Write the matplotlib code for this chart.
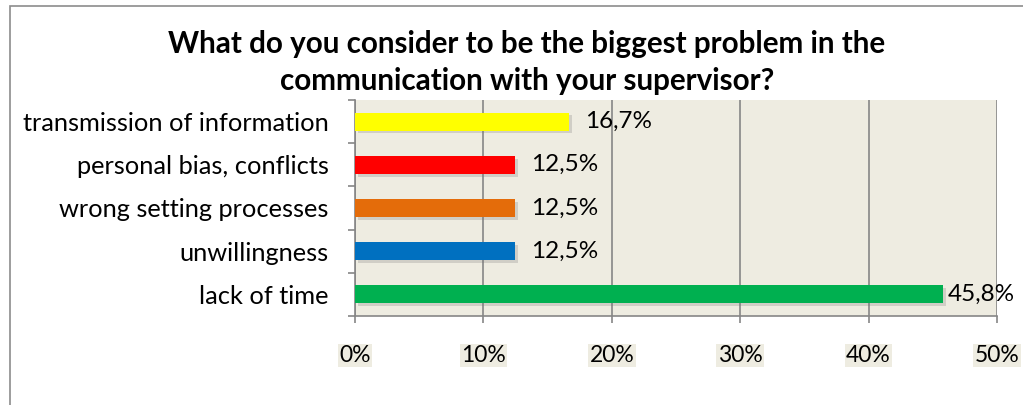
import matplotlib.pyplot as plt
import matplotlib.patheffects as pe
from matplotlib.patches import Rectangle

# survey answers, bottom to top
categories = ["lack of time", "unwillingness", "wrong setting processes",
              "personal bias, conflicts", "transmission of information"]
values = [45.8, 12.5, 12.5, 12.5, 16.7]
labels = ["45,8%", "12,5%", "12,5%", "12,5%", "16,7%"]
colors = ["#00B050", "#0070C0", "#E46C0A", "#FF0000", "#FFFF00"]
xticks = [0, 10, 20, 30, 40, 50]

plt.rcParams['font.family'] = ['Lato', 'DejaVu Sans']

fig = plt.figure(figsize=(10.23, 4.05), dpi=100)
ax = fig.add_axes([0.347, 0.22, 0.6276, 0.533])
ax.set_facecolor("#EEECE1")

bars = ax.barh(range(len(values)), values, height=0.42, color=colors, zorder=3)
for b in bars:
    b.set_path_effects([pe.SimplePatchShadow(offset=(2, -2), shadow_rgbFace="#777777", alpha=0.25),
                        pe.Normal()])

for i, (v, t) in enumerate(zip(values, labels)):
    off = 11 if v < 40 else 3
    ax.annotate(t, (v, i), xytext=(off, 0), textcoords="offset points",
                va="center", ha="left", fontsize=17.5, zorder=4)

ax.set_xlim(0, 50)
ax.set_ylim(-0.5, 4.5)
ax.set_xticks(xticks)
ax.set_xticklabels([f"{x}%" for x in xticks], fontsize=16.5)
for lab in ax.get_xticklabels():
    lab.set_bbox(dict(facecolor="#EEECE1", edgecolor="none", pad=1))
ax.set_yticks(range(len(categories)))
ax.set_yticklabels(categories, fontsize=18.3)
ax.set_yticks([y - 0.5 for y in range(len(categories) + 1)], minor=True)

ax.grid(axis="x", color="#868686", linewidth=1.2, zorder=1)
ax.tick_params(axis="x", direction="out", length=5, width=1.2, color="#868686", pad=16)
ax.tick_params(axis="y", which="major", length=0, pad=19)
ax.tick_params(axis="y", which="minor", direction="out", length=5, width=1.2, color="#868686")
for s in ["top", "right"]:
    ax.spines[s].set_visible(False)
for s in ["left", "bottom"]:
    ax.spines[s].set_color("#868686")
    ax.spines[s].set_linewidth(1.2)

fig.text(0.515, 0.845, "What do you consider to be the biggest problem in the\ncommunication with your supervisor?",
         ha="center", va="center", fontsize=21.3, fontweight="bold", linespacing=1.4)

# chart frame
fig.patches.append(Rectangle((10 / 1023, -0.1), 1.2, 1.1 - 6 / 405, transform=fig.transFigure,
                             fill=False, edgecolor="#8C8C8C", linewidth=1.2))

fig.savefig("out.png", dpi=100)
